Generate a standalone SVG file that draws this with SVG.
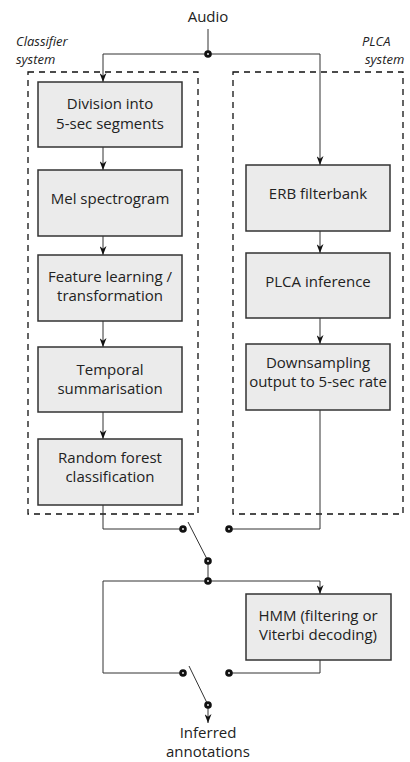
<svg xmlns="http://www.w3.org/2000/svg" width="410" height="762" viewBox="0 0 410 762">
<style>
text{font-family:"Open Sans","DejaVu Sans",sans-serif;font-size:15px;fill:#222}
.c{text-anchor:middle}
.i{font-style:italic;font-size:13px}
.box{fill:#ebebeb;stroke:#333;stroke-width:1.5}
.dash{fill:none;stroke:#111;stroke-width:1.3;stroke-dasharray:6,5}
.ln{fill:none;stroke:#333;stroke-width:1}
.dot{fill:#111}
.hole{fill:#fff}
</style>
<defs>
<marker id="ar" viewBox="0 0 10 10" refX="10" refY="5" markerWidth="9" markerHeight="7" markerUnits="userSpaceOnUse" orient="auto" preserveAspectRatio="none">
<path d="M0,0 L10,5 L0,10 L3,5 z" fill="#111"/>
</marker>
<g id="d"><circle r="3.8" class="dot"/><circle r="0.9" class="hole"/></g>
</defs>

<text class="c" x="208" y="22">Audio</text>
<text class="i" x="16" y="46">Classifier</text>
<text class="i" x="16" y="64">system</text>
<text class="i" x="362" y="46">PLCA</text>
<text class="i" x="365" y="64">system</text>

<rect class="dash" x="28" y="72" width="170" height="442"/>
<rect class="dash" x="233" y="72" width="170" height="442"/>

<g id="connectors">
<path class="ln" d="M208,29 V54"/>
<path class="ln" d="M208,54 H103 V82" marker-end="url(#ar)"/>
<path class="ln" d="M208,54 H320 V165" marker-end="url(#ar)"/>
<path class="ln" d="M103,147 V170" marker-end="url(#ar)"/>
<path class="ln" d="M103,236 V255" marker-end="url(#ar)"/>
<path class="ln" d="M103,321 V347" marker-end="url(#ar)"/>
<path class="ln" d="M103,412 V439" marker-end="url(#ar)"/>
<path class="ln" d="M320,231 V253" marker-end="url(#ar)"/>
<path class="ln" d="M320,318 V344" marker-end="url(#ar)"/>
<path class="ln" d="M103,505 V529 H183"/>
<path class="ln" d="M320,410 V529 H229"/>
<path class="ln" d="M188,522 L208,561"/>
<path class="ln" d="M208,561 V581"/>
<path class="ln" d="M208,581 H320 V594" marker-end="url(#ar)"/>
<path class="ln" d="M208,581 H103 V673 H183"/>
<path class="ln" d="M320,660 V673 H229"/>
<path class="ln" d="M189,666 L208,705"/>
<path class="ln" d="M208,705 V723" marker-end="url(#ar)"/>
<use href="#d" x="208" y="54"/>
<use href="#d" x="183" y="529"/>
<use href="#d" x="229" y="529"/>
<use href="#d" x="208" y="561"/>
<use href="#d" x="208" y="581"/>
<use href="#d" x="183" y="673"/>
<use href="#d" x="229" y="673"/>
<use href="#d" x="208" y="705"/>
</g>

<g id="n1"><rect class="box" x="38" y="82" width="144" height="65"/><text class="c" x="110" y="109">Division into</text><text class="c" x="110" y="129">5-sec segments</text></g>
<g id="n2"><rect class="box" x="38" y="170" width="144" height="66"/><text class="c" x="110" y="204">Mel spectrogram</text></g>
<g id="n3"><rect class="box" x="38" y="255" width="144" height="66"/><text class="c" x="110" y="282">Feature learning /</text><text class="c" x="110" y="301">transformation</text></g>
<g id="n4"><rect class="box" x="38" y="347" width="144" height="65"/><text class="c" x="110" y="375">Temporal</text><text class="c" x="110" y="394">summarisation</text></g>
<g id="n5"><rect class="box" x="38" y="439" width="144" height="66"/><text class="c" x="110" y="463">Random forest</text><text class="c" x="110" y="482">classification</text></g>
<g id="n6"><rect class="box" x="246" y="165" width="144" height="66"/><text class="c" x="318" y="199">ERB filterbank</text></g>
<g id="n7"><rect class="box" x="246" y="253" width="144" height="65"/><text class="c" x="318" y="287">PLCA inference</text></g>
<g id="n8"><rect class="box" x="246" y="344" width="144" height="66"/><text class="c" x="318" y="368">Downsampling</text><text class="c" x="318" y="387">output to 5-sec rate</text></g>
<g id="n9"><rect class="box" x="246" y="594" width="145" height="66"/><text class="c" x="318" y="621">HMM (filtering or</text><text class="c" x="318" y="640">Viterbi decoding)</text></g>
<g id="n10"><text class="c" x="208" y="738">Inferred</text><text class="c" x="208" y="757">annotations</text></g>
</svg>
